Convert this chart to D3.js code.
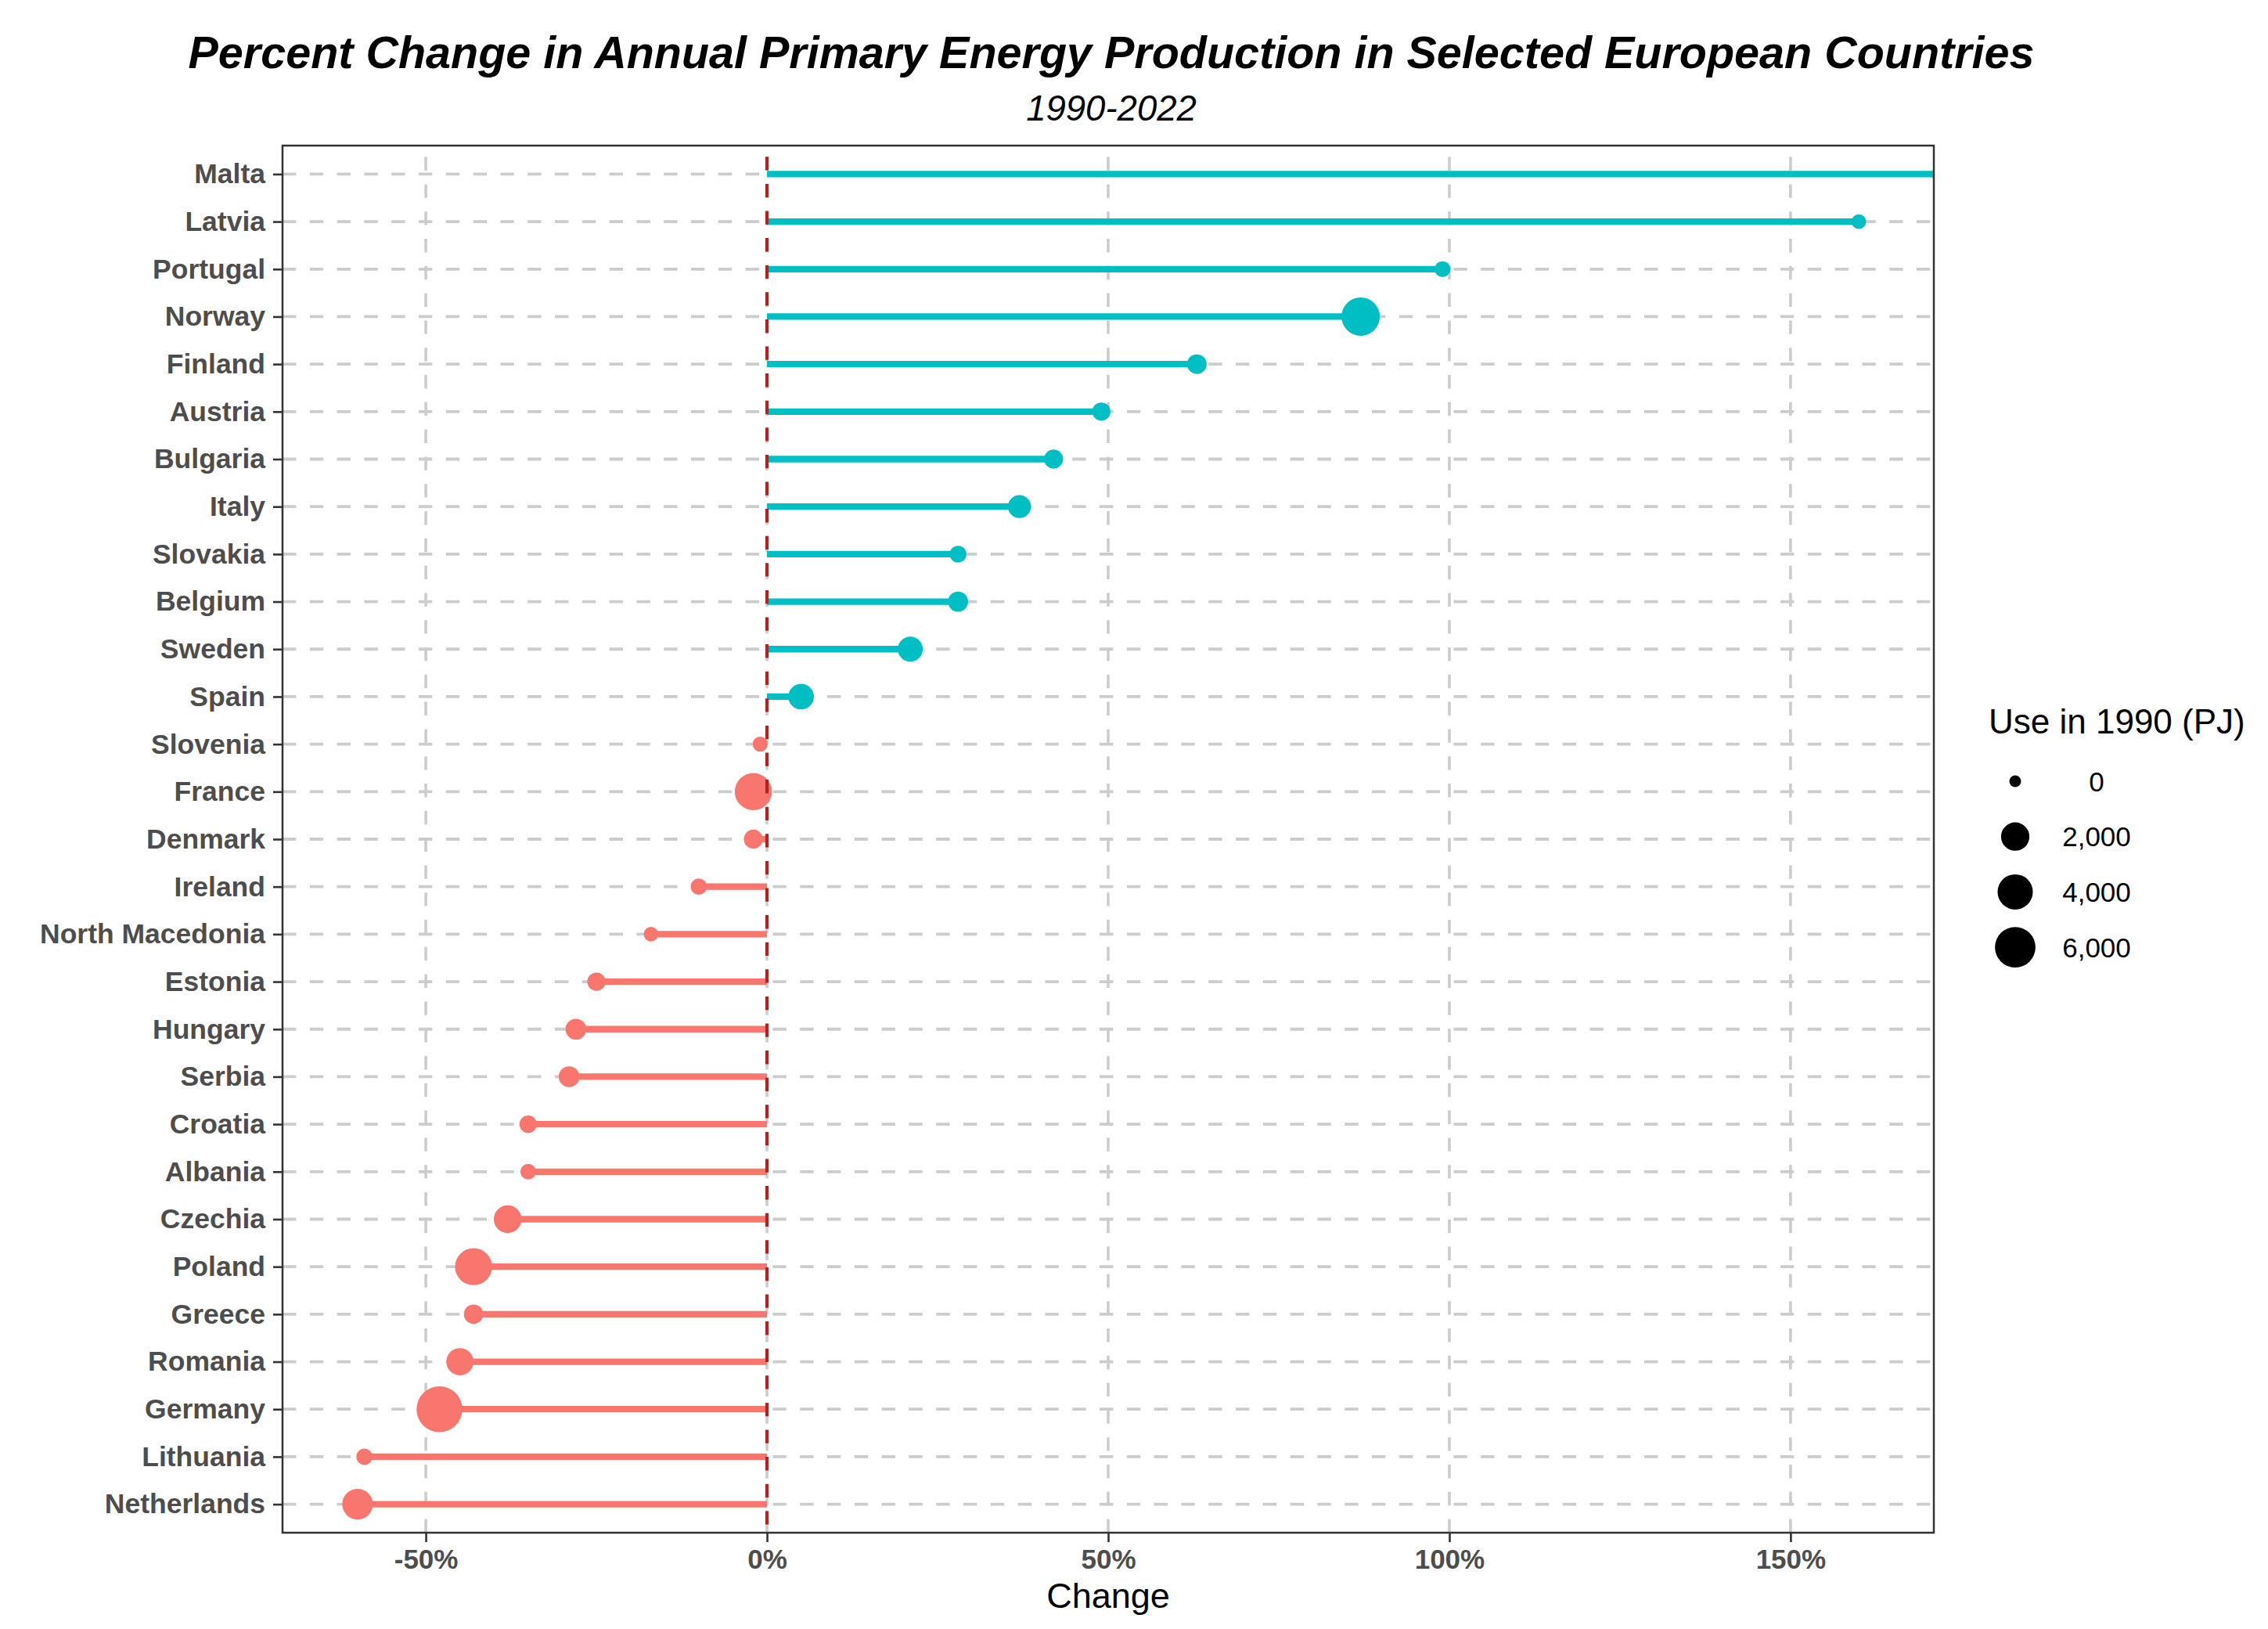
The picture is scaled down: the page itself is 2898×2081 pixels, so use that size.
<!DOCTYPE html>
<html>
<head>
<meta charset="utf-8">
<script src="https://cdn.jsdelivr.net/npm/d3@7"></script>
<style>
  body { margin: 0; background: #fff; }
  text { font-family: "Liberation Sans", Arial, Helvetica, sans-serif; }
</style>
</head>
<body>
<div id="chart"></div>
<script>
// data, top row first
var countries = ["Malta","Latvia","Portugal","Norway","Finland","Austria","Bulgaria","Italy",
  "Slovakia","Belgium","Sweden","Spain","Slovenia","France","Denmark","Ireland",
  "North Macedonia","Estonia","Hungary","Serbia","Croatia","Albania","Czechia","Poland",
  "Greece","Romania","Germany","Lithuania","Netherlands"];
// percent change 1990-2022 (Malta runs off the right edge)
var changes = [171.5,160,99,87,63,49,42,37,28,28,21,5,-1,-2,-2,-10,-17,-25,-28,-29,-35,-35,-38,-43,-43,-45,-48,-59,-60];
// use in 1990, PJ
var use1990 = [0,60,125,5120,445,305,385,905,175,505,1280,1390,80,4650,390,145,55,305,595,595,230,110,1860,4650,425,1735,8390,145,2595];
var xTicks = [-50,0,50,100,150];
var legendValues = [0,2000,4000,6000];

var data = countries.map(function(c,i){
  return {country:c, change:changes[i], use:use1990[i]};
});

var W = 2898, H = 2081;
var margin = {left:361, right:W-2471, top:186, bottom:H-1958};
var pw = W - margin.left - margin.right, ph = H - margin.top - margin.bottom;

var svg = d3.select("#chart").append("svg")
  .attr("width",W).attr("height",H);

var x = d3.scaleLinear().domain([-71,171]).range([0,pw]);
var y = d3.scalePoint().domain(countries).range([0,ph]).padding(0.6);
var r = d3.scaleSqrt().domain([0,8000]).range([7.5,28.74]);
var col = function(v){ return v > 0 ? "#00BFC4" : "#F8766D"; };

// titles
svg.append("text")
  .attr("x",1420).attr("y",87)
  .attr("text-anchor","middle")
  .style("font-size","57.5px").style("font-weight","bold").style("font-style","italic")
  .text("Percent Change in Annual Primary Energy Production in Selected European Countries");
svg.append("text")
  .attr("x",1420).attr("y",154)
  .attr("text-anchor","middle")
  .style("font-size","45.5px").style("font-style","italic")
  .text("1990-2022");

var g = svg.append("g").attr("transform","translate(" + margin.left + "," + margin.top + ")");

g.append("clipPath").attr("id","clip")
  .append("rect").attr("width",pw).attr("height",ph);

// grid
g.selectAll("line.hgrid")
  .data(countries)
  .enter().append("line")
  .attr("class","hgrid")
  .attr("x1",0).attr("x2",pw)
  .attr("y1",function(d){return y(d);}).attr("y2",function(d){return y(d);})
  .style("stroke","#CCCCCC").style("stroke-width",3.8)
  .style("stroke-dasharray","17.4,17.4");
g.selectAll("line.vgrid")
  .data(xTicks)
  .enter().append("line")
  .attr("class","vgrid")
  .attr("x1",function(d){return x(d);}).attr("x2",function(d){return x(d);})
  .attr("y1",ph).attr("y2",0)
  .style("stroke","#CCCCCC").style("stroke-width",3.6)
  .style("stroke-dasharray","17.4,17.4");

var marks = g.append("g").attr("clip-path","url(#clip)");

marks.selectAll("line.seg")
  .data(data)
  .enter().append("line")
  .attr("class","seg")
  .attr("x1",x(0))
  .attr("x2",function(d){return x(d.change);})
  .attr("y1",function(d){return y(d.country);})
  .attr("y2",function(d){return y(d.country);})
  .style("stroke",function(d){return col(d.change);})
  .style("stroke-width",8.3);

marks.selectAll("circle.pt")
  .data(data)
  .enter().append("circle")
  .attr("class","pt")
  .attr("cx",function(d){return x(d.change);})
  .attr("cy",function(d){return y(d.country);})
  .attr("r",function(d){return r(d.use);})
  .style("fill",function(d){return col(d.change);});

// zero line
g.append("line")
  .attr("x1",x(0)).attr("x2",x(0))
  .attr("y1",0).attr("y2",ph)
  .style("stroke","#B22222").style("stroke-width",4.2)
  .style("stroke-dasharray","17.3,17.3")
  .style("stroke-dashoffset",20.3);

// axes
var xAxis = g.append("g")
  .attr("transform","translate(0," + ph + ")")
  .call(d3.axisBottom(x).tickValues(xTicks).tickSize(12).tickPadding(9)
    .tickFormat(function(d){return d + "%";}));
var yAxis = g.append("g")
  .call(d3.axisLeft(y).tickSize(12).tickPadding(10));

[xAxis, yAxis].forEach(function(a){
  a.select(".domain").remove();
  a.selectAll(".tick line").style("stroke","#333333").style("stroke-width",2.6);
  a.selectAll(".tick text")
    .style("font-family","'Liberation Sans', Arial, sans-serif")
    .style("font-weight","bold").style("fill","#4D4D4D");
});
xAxis.selectAll(".tick text").style("font-size","35px");
yAxis.selectAll(".tick text").style("font-size","35.5px");

// panel border
g.append("rect")
  .attr("width",pw).attr("height",ph)
  .style("fill","none").style("stroke","#333333").style("stroke-width",2.5);

svg.append("text")
  .attr("x",margin.left + pw/2).attr("y",2054)
  .attr("text-anchor","middle")
  .style("font-size","45px")
  .text("Change");

// size legend
var legend = svg.append("g");
legend.append("text")
  .attr("x",2541).attr("y",937)
  .style("font-size","44px")
  .text("Use in 1990 (PJ)");
var keys = legend.selectAll("g.key")
  .data(legendValues)
  .enter().append("g")
  .attr("class","key")
  .attr("transform",function(d,i){return "translate(0," + (998 + i*70.7) + ")";});
keys.append("circle")
  .attr("cx",2575).attr("cy",0)
  .attr("r",function(d){return r(d);})
  .style("fill","#000");
keys.append("text")
  .attr("x",2679).attr("y",0).attr("dy","0.36em")
  .attr("text-anchor","middle")
  .style("font-size","35px")
  .text(function(d){return d3.format(",")(d);});
</script>
</body>
</html>
